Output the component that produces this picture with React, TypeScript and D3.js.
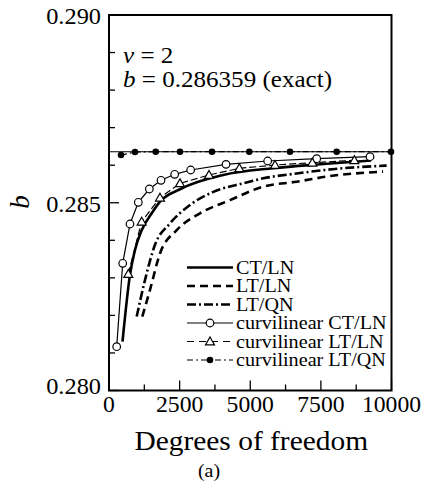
import * as d3 from "d3";

// b vs degrees of freedom, v = 2
const exactB = 0.286359;

const ctlnDof = [478, 743, 920, 1157, 1512, 1805, 2513, 4046, 5816, 7586, 9274];
const ctlnB = [0.2813, 0.28308, 0.28374, 0.28427, 0.28472, 0.28503, 0.28536, 0.28574, 0.28592, 0.28603, 0.286125];

const ltlnDof = [1180, 1451, 1805, 2396, 3221, 4283, 5462, 6644, 7823, 9700];
const ltlnB = [0.28197, 0.28268, 0.28365, 0.28427, 0.28472, 0.28507, 0.28543, 0.28556, 0.28571, 0.28583];

const ltqnDof = [980, 1274, 1628, 2159, 2867, 3692, 4754, 5460, 6640, 8000, 9830];
const ltqnB = [0.28197, 0.28294, 0.28388, 0.28445, 0.28494, 0.28529, 0.28552, 0.28565, 0.28578, 0.2859, 0.28599];

const cCtlnDof = [272, 485, 743, 1038, 1428, 1841, 2325, 2891, 4142, 5617, 7352, 9239];
const cCtlnB = [0.281167, 0.283387, 0.284434, 0.285012, 0.285366, 0.285598, 0.285757, 0.285872, 0.286023, 0.286112, 0.286173, 0.286226];

const cLtlnDof = [684, 1156, 1805, 2513, 3540, 4614, 5876, 7197, 8684];
const cLtlnB = [0.283103, 0.284496, 0.285135, 0.285517, 0.285739, 0.285917, 0.286005, 0.286067, 0.28613];

const cLtqnDof = [425, 920, 1653, 2513, 3646, 4966, 6407, 8060, 9982];
const cLtqnB = [0.28627, 0.28635, 0.286359, 0.286359, 0.286359, 0.286359, 0.286359, 0.286359, 0.286359];

const xTicks = [0, 2500, 5000, 7500, 10000];
const yTickLabels = ["0.280", "0.285", "0.290"];

const legendLabels = ["CT/LN", "LT/LN", "LT/QN", "curvilinear CT/LN", "curvilinear LT/LN", "curvilinear LT/QN"];

const font = "Liberation Serif";

type Pt = [number, number];
const zip = (a: number[], b: number[]): Pt[] => a.map((v, i) => [v, b[i]]);

// text a bit wider than the font, like the scanned figure
function WideText(props: { x: number; y: number; size: number; sx?: number; anchor?: string; children: any }) {
  const { x, y, size, sx = 1.1, anchor = "start", children } = props;
  return (
    <text
      transform={`translate(${x},${y}) scale(${sx},1)`}
      textAnchor={anchor}
      fontSize={size}
      style={{ fontFamily: font }}
    >
      {children}
    </text>
  );
}

export default function App() {
  const left = 109, right = 391.5, top = 15, bottom = 390.5;
  const x = d3.scaleLinear().domain([0, 10000]).range([left, right]);
  const y = d3.scaleLinear().domain([0.28, 0.29]).range([bottom, top]);

  const smooth = d3.line<Pt>().x((d) => x(d[0])).y((d) => y(d[1])).curve(d3.curveMonotoneX);
  const straight = d3.line<Pt>().x((d) => x(d[0])).y((d) => y(d[1]));

  const dashDot = "9,3,2,3";
  const thinDashDot = "6,3,2,3";

  const minorX = d3.range(0, 10001, 1250);
  const minorY = d3.range(0, 11).map((i) => 0.28 + i * 0.001);

  const tri = (cx: number, cy: number, s = 4.5) =>
    `M${cx},${cy - s}L${cx + s},${cy + s * 0.75}L${cx - s},${cy + s * 0.75}Z`;

  const legX0 = 187, legX1 = 233, legY0 = 267.5, legDy = 18.5;
  const legMid = (legX0 + legX1) / 2;
  const tf = { fontFamily: font };

  return (
    <svg width={426} height={489} style={{ position: "absolute", left: 0, top: 0, background: "#fff" }}>
      {/* exact value */}
      <line x1={x(0)} x2={x(10000)} y1={y(exactB)} y2={y(exactB)} stroke="#000" strokeWidth={1.1} />

      {/* thick series */}
      <path d={smooth(zip(ctlnDof, ctlnB)) ?? ""} fill="none" stroke="#000" strokeWidth={2.6} />
      <path d={smooth(zip(ltlnDof, ltlnB)) ?? ""} fill="none" stroke="#000" strokeWidth={2.6} strokeDasharray="8,5" />
      <path d={smooth(zip(ltqnDof, ltqnB)) ?? ""} fill="none" stroke="#000" strokeWidth={2.6} strokeDasharray={dashDot} />

      {/* curvilinear series */}
      <path d={straight(zip(cCtlnDof, cCtlnB)) ?? ""} fill="none" stroke="#000" strokeWidth={1.2} />
      <path d={straight(zip(cLtlnDof, cLtlnB)) ?? ""} fill="none" stroke="#000" strokeWidth={1.2} strokeDasharray="7,3" />
      <path d={straight(zip(cLtqnDof, cLtqnB)) ?? ""} fill="none" stroke="#000" strokeWidth={1.2} strokeDasharray={thinDashDot} />

      {cCtlnDof.map((d, i) => (
        <circle key={"c" + i} cx={x(d)} cy={y(cCtlnB[i])} r={3.8} fill="#fff" stroke="#000" strokeWidth={1.2} />
      ))}
      {cLtlnDof.map((d, i) => (
        <path key={"t" + i} d={tri(x(d), y(cLtlnB[i]))} fill="#fff" stroke="#000" strokeWidth={1.2} />
      ))}
      {cLtqnDof.map((d, i) => (
        <circle key={"f" + i} cx={x(d)} cy={y(cLtqnB[i])} r={3.3} fill="#000" />
      ))}

      {/* frame */}
      <rect x={left} y={top} width={right - left} height={bottom - top} fill="none" stroke="#000" strokeWidth={2} />

      {/* ticks */}
      {minorX.map((t) => (
        <line key={"xt" + t} x1={x(t)} x2={x(t)} y1={bottom} y2={bottom - (t % 2500 === 0 ? 10 : 6)} stroke="#000" strokeWidth={1.3} />
      ))}
      {minorY.map((t, i) => (
        <line key={"yt" + i} x1={left} x2={left + (i % 5 === 0 ? 10 : 6)} y1={y(t)} y2={y(t)} stroke="#000" strokeWidth={1.3} />
      ))}

      {/* tick labels */}
      {xTicks.map((t) => (
        <WideText key={"xl" + t} x={x(t)} y={411.5} size={23} sx={1.03} anchor="middle">{t}</WideText>
      ))}
      {yTickLabels.map((t, i) => (
        <WideText key={"yl" + t} x={101} y={y(+t) + (i === 0 ? 3 : 9)} size={23} sx={1.06} anchor="end">{t}</WideText>
      ))}

      {/* axis titles */}
      <WideText x={(left + right) / 2 + 1} y={450} size={27} sx={1.09} anchor="middle">Degrees of freedom</WideText>
      <text transform={`translate(29,202) rotate(-90)`} textAnchor="middle" fontSize={27} fontStyle="italic" style={tf}>b</text>
      <WideText x={209} y={477} size={19} sx={1.05} anchor="middle">(a)</WideText>

      {/* annotation */}
      <WideText x={123} y={63} size={23} sx={1.09}>
        <tspan fontStyle="italic">v</tspan> = 2
      </WideText>
      <WideText x={123} y={87} size={23} sx={1.09}>
        <tspan fontStyle="italic">b</tspan> = 0.286359 (exact)
      </WideText>

      {/* legend */}
      {legendLabels.map((lab, i) => {
        const ly = legY0 + i * legDy;
        const thick = i < 3;
        const dash = i === 1 ? "8,5" : i === 2 ? dashDot : i === 4 ? "7,5" : i === 5 ? "6,3,2,3" : undefined;
        return (
          <g key={lab}>
            <line x1={legX0} x2={legX1} y1={ly} y2={ly} stroke="#000" strokeWidth={thick ? 2.6 : 1.2} strokeDasharray={dash} />
            {i === 3 && <circle cx={legMid} cy={ly} r={3.8} fill="#fff" stroke="#000" strokeWidth={1.2} />}
            {i === 4 && <path d={tri(legMid, ly)} fill="#fff" stroke="#000" strokeWidth={1.2} />}
            {i === 5 && <circle cx={legMid} cy={ly} r={3.3} fill="#000" />}
            <WideText x={236} y={ly + 6} size={18} sx={1.12}>{lab}</WideText>
          </g>
        );
      })}
    </svg>
  );
}
